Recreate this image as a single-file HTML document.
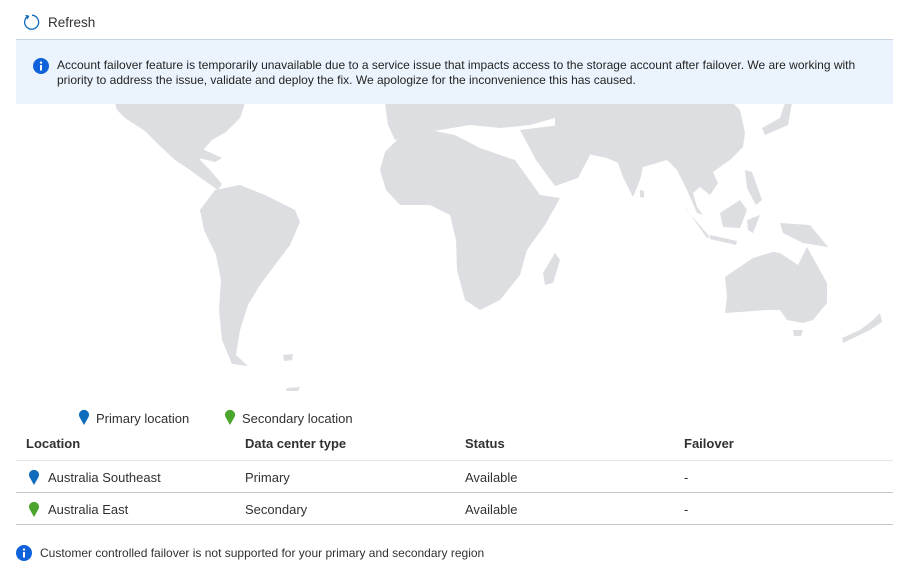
<!DOCTYPE html>
<html><head><meta charset="utf-8"><style>
body{margin:0;width:908px;height:578px;background:#fff;font-family:"Liberation Sans",sans-serif;color:#323130;position:relative;overflow:hidden;font-size:13px}
.a{position:absolute}
</style></head><body>
<div class="a" style="left:22px;top:12px;height:20px;display:flex;align-items:center;gap:8px;font-size:13.5px">
<svg width="18" height="18" viewBox="0 0 18 18"><path d="M6 3.2A7 7 0 1 0 10 2.2" fill="none" stroke="#0f6cbd" stroke-width="1.3"/><path d="M3.5 2.5L6.5 3.2L5.2 6" fill="none" stroke="#0f6cbd" stroke-width="1.3"/></svg><span>Refresh</span></div>
<svg class="a" style="left:0;top:0" width="908" height="400">
<g fill="#dcdee1">
<polygon points="115,103 245,103 240,118 226,132 212,140 203,150 200,160 210,170 222,184 218,190 205,181 190,170 175,160 160,146 145,131 125,118 117,110"/>
<polygon points="175,150 200,148 222,158 215,162 195,157 178,156"/>
<polygon points="215,190 240,185 265,195 295,210 300,222 290,245 275,265 260,285 248,305 240,330 236,355 248,366 232,364 222,340 219,310 221,280 216,255 204,230 200,210"/>
<polygon points="385,103 560,103 555,118 530,125 500,128 470,125 440,130 410,135 395,140 388,125"/>
<polygon points="385,152 400,137 430,130 455,135 480,148 515,160 540,195 560,198 545,225 527,250 520,275 500,300 480,310 465,300 457,270 456,240 450,215 430,205 400,205 386,190 380,170"/>
<polygon points="555,253 560,260 553,283 545,285 543,273"/>
<polygon points="520,130 560,125 590,155 578,178 555,186 536,160"/>
<polygon points="555,103 733,103 740,110 745,133 743,147 730,160 720,167 713,172 718,183 710,195 700,187 693,193 697,207 703,215 697,213 687,190 677,170 667,160 643,167 640,180 633,197 623,177 618,163 607,158 583,153 570,148 560,145 555,140"/>
<polygon points="640,190 644,191 644,198 640,197"/>
<polygon points="785,103 792,103 788,125 765,135 762,128 780,118"/>
<polygon points="745,170 752,172 762,200 756,205 747,188"/>
<polygon points="720,213 740,200 747,210 740,228 723,227"/>
<polygon points="747,220 760,215 753,233 748,230"/>
<polygon points="682,205 710,237 707,238 687,210"/>
<polygon points="710,235 737,241 736,245 710,239"/>
<polygon points="780,223 810,225 828,247 803,243 783,233"/>
<polygon points="725,277 753,258 773,252 780,253 798,265 807,247 827,283 827,303 813,320 803,323 787,320 780,310 767,310 740,312 725,313 727,297"/>
<polygon points="793,330 803,330 801,336 794,336"/>
<polygon points="880,313 882,322 870,330 843,343 842,338 860,330 873,320"/>
<polygon points="283,355 293,354 292,360 284,361"/>
<polygon points="287,388 300,387 298,391 286,391"/>
</g></svg>
<div class="a" style="left:16px;top:39px;width:877px;height:64px;background:#ebf3fc;border-top:1px solid #c8d3df">
<svg class="a" style="left:17px;top:18px" width="16" height="16"><circle cx="8" cy="8" r="8" fill="#0f62d9"/><rect x="7" y="7" width="2" height="5.5" fill="#fff"/><circle cx="8" cy="4.6" r="1.2" fill="#fff"/></svg>
<div class="a" style="left:41px;top:18px;width:830px;font-size:12px;line-height:15px;color:#242424">Account failover feature is temporarily unavailable due to a service issue that impacts access to the storage account after failover. We are working with priority to address the issue, validate and deploy the fix. We apologize for the inconvenience this has caused.</div>
</div>
<div class="a" style="left:78px;top:407px;font-size:13px;display:flex;gap:6px;align-items:center"><svg width="12" height="16"><path d="M6 16L1.5 8A5 5 0 1 1 10.5 8Z" fill="#0f6cbd"/></svg><span style="margin-top:4px">Primary location</span></div>
<div class="a" style="left:224px;top:407px;font-size:13px;display:flex;gap:6px;align-items:center"><svg width="12" height="16"><path d="M6 16L1.5 8A5 5 0 1 1 10.5 8Z" fill="#4ba42b"/></svg><span style="margin-top:4px">Secondary location</span></div>
<div>
<div class="a" style="left:26px;top:436px;font-weight:bold;font-size:13px">Location</div>
<div class="a" style="left:245px;top:436px;font-weight:bold;font-size:13px">Data center type</div>
<div class="a" style="left:465px;top:436px;font-weight:bold;font-size:13px">Status</div>
<div class="a" style="left:684px;top:436px;font-weight:bold;font-size:13px">Failover</div>
<div class="a" style="left:16px;top:460px;width:877px;border-top:1px solid #e6e6e6"></div>
<svg class="a" style="left:28px;top:469px" width="12" height="16"><path d="M6 16L1.5 8A5 5 0 1 1 10.5 8Z" fill="#0f6cbd"/></svg>
<div class="a" style="left:48px;top:470px">Australia Southeast</div>
<div class="a" style="left:245px;top:470px">Primary</div>
<div class="a" style="left:465px;top:470px">Available</div>
<div class="a" style="left:684px;top:470px">-</div>
<div class="a" style="left:16px;top:492px;width:877px;border-top:1px solid #c8c8c8"></div>
<svg class="a" style="left:28px;top:501px" width="12" height="16"><path d="M6 16L1.5 8A5 5 0 1 1 10.5 8Z" fill="#4ba42b"/></svg>
<div class="a" style="left:48px;top:502px">Australia East</div>
<div class="a" style="left:245px;top:502px">Secondary</div>
<div class="a" style="left:465px;top:502px">Available</div>
<div class="a" style="left:684px;top:502px">-</div>
<div class="a" style="left:16px;top:524px;width:877px;border-top:1px solid #c8c8c8"></div>
</div>
<svg class="a" style="left:16px;top:545px" width="16" height="16"><circle cx="8" cy="8" r="8" fill="#0f62d9"/><rect x="7" y="7" width="2" height="5.5" fill="#fff"/><circle cx="8" cy="4.6" r="1.2" fill="#fff"/></svg>
<div class="a" style="left:40px;top:546px;font-size:12px">Customer controlled failover is not supported for your primary and secondary region</div>
</body></html>
